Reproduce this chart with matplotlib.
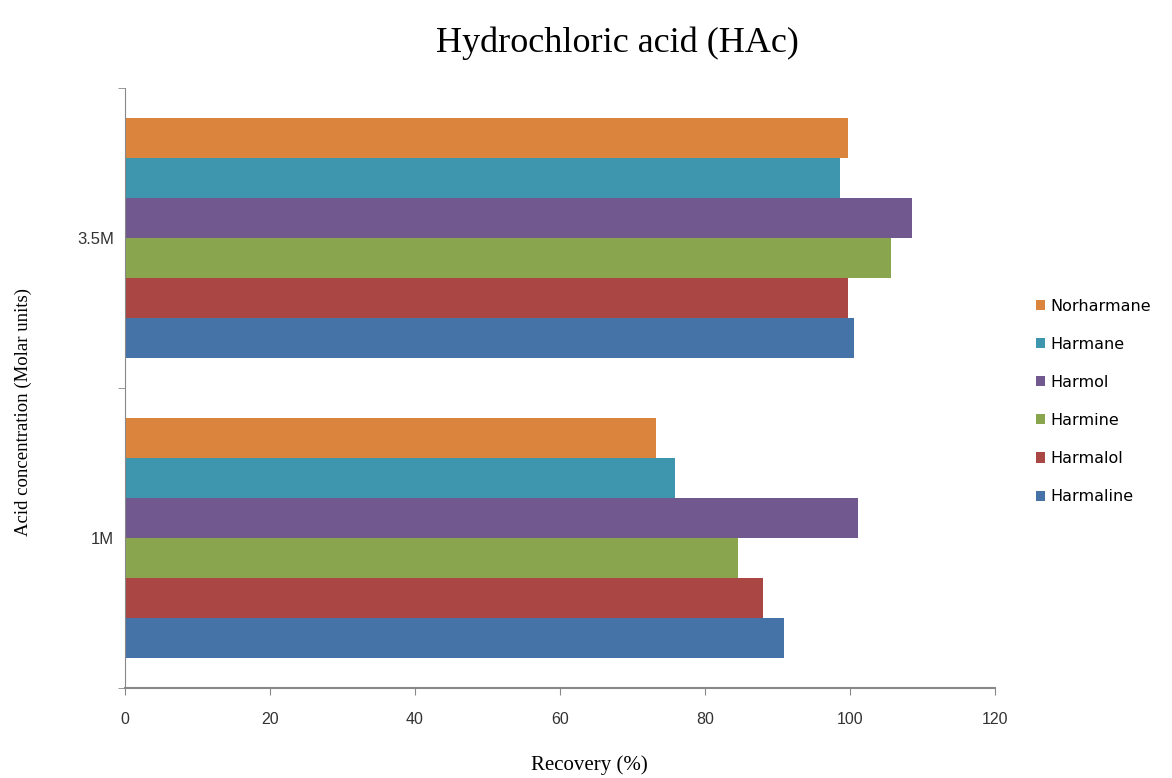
import matplotlib
matplotlib.use("Agg")
import matplotlib.pyplot as plt
import numpy as np

# data
concentrations = ["1M", "3.5M"]
compounds = ["Harmaline", "Harmalol", "Harmine", "Harmol", "Harmane", "Norharmane"]
recovery_1m = [90.9, 88.0, 84.5, 101.1, 75.8, 73.2]
recovery_35m = [100.6, 99.7, 105.7, 108.6, 98.6, 99.7]
colors = ["#4572A7", "#AA4643", "#89A54E", "#71588F", "#3D96AE", "#DB843D"]
x_ticks = [0, 20, 40, 60, 80, 100, 120]

fig = plt.figure(figsize=(11.72, 7.78), dpi=100)
ax = fig.add_axes([0.1067, 0.1157, 0.7423, 0.7713])

y = np.arange(len(concentrations))
n = len(compounds)
h = 0.8 / n
handles = []
for i, name in enumerate(compounds):
    vals = [recovery_1m[i], recovery_35m[i]]
    b = ax.barh(y - 0.4 + (i + 0.5) * h, vals, height=h, color=colors[i],
                label=name, linewidth=0)
    handles.append(b)

ax.set_xlim(0, 120)
ax.set_ylim(-0.5, 1.5)
ax.set_xticks(x_ticks)
ax.set_xticklabels([str(t) for t in x_ticks], fontsize=11.5, family="Liberation Sans",
                   color="#333333")
ax.set_yticks(y)
ax.set_yticklabels(concentrations, fontsize=12, family="Liberation Sans", color="#333333")
ax.set_yticks([-0.5, 0.5, 1.5], minor=True)
ax.tick_params(axis="y", which="major", length=0, pad=8)
ax.tick_params(axis="y", which="minor", length=5, color="#888888", direction="out")
ax.tick_params(axis="x", which="major", length=5, color="#888888", direction="out", pad=12)

for s in ["top", "right"]:
    ax.spines[s].set_visible(False)
ax.spines["left"].set_color("#888888")
ax.spines["bottom"].set_color("#888888")
ax.spines["bottom"].set_linewidth(1.5)

ax.set_xlabel("Recovery (%)", fontsize=15, family="Liberation Serif")
ax.xaxis.set_label_coords(0.534, -0.112)
ax.set_ylabel("Acid concentration (Molar units)", fontsize=13.5, family="Liberation Serif")
ax.yaxis.set_label_coords(-0.107, 0.46)
fig.text(0.527, 0.945, "Hydrochloric acid (HAc)", fontsize=26, family="Liberation Serif",
         ha="center", va="center")

leg = ax.legend(handles[::-1], compounds[::-1], loc="center left",
                bbox_to_anchor=(1.03, 0.4775), frameon=False,
                prop={"family": "DejaVu Sans", "size": 11.5},
                handlelength=0.6, handleheight=0.6, handletextpad=0.3,
                labelspacing=1.45)

fig.savefig("out.png", dpi=100)
